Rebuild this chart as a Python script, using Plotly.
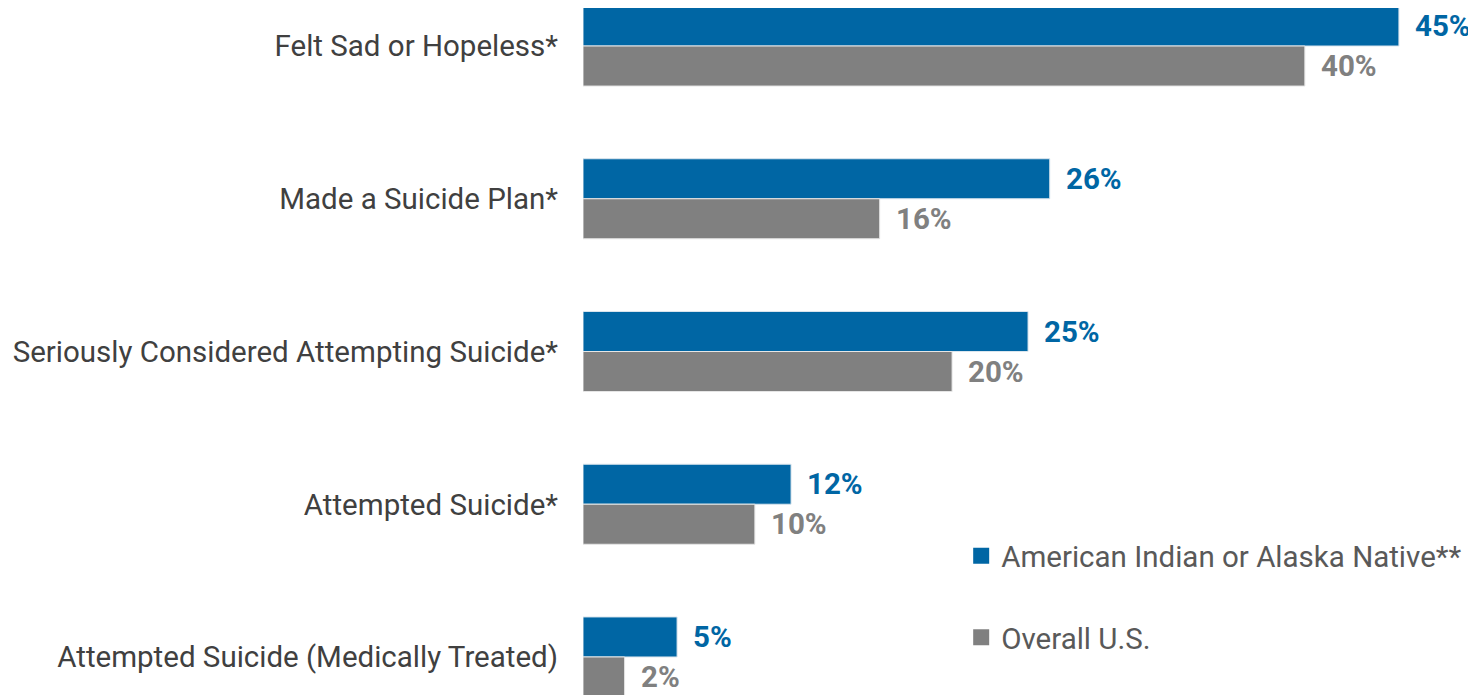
import plotly.graph_objects as go

categories = [
    "Felt Sad or Hopeless*",
    "Made a Suicide Plan*",
    "Seriously Considered Attempting Suicide*",
    "Attempted Suicide*",
    "Attempted Suicide (Medically Treated)",
]
# bar lengths (unrounded estimates)
aian_values = [45.1, 25.8, 24.6, 11.5, 5.2]
overall_values = [39.9, 16.4, 20.4, 9.5, 2.3]
# printed value labels
aian_labels = ["45%", "26%", "25%", "12%", "5%"]
overall_labels = ["40%", "16%", "20%", "10%", "2%"]
series_names = ["American Indian or Alaska Native**", "Overall U.S."]

BLUE = "#0066A4"
GRAY = "#808080"
FONT = "Roboto"
FS = 29.5

fig = go.Figure()
fig.add_trace(go.Bar(y=categories, x=aian_values, orientation="h", marker=dict(color=BLUE, line=dict(color="#dbe6ee", width=1)),
                     showlegend=False, hoverinfo="y", name=series_names[0]))
fig.add_trace(go.Bar(y=categories, x=overall_values, orientation="h", marker=dict(color=GRAY, line=dict(color="#e6e6e6", width=1)),
                     showlegend=False, hoverinfo="y", name=series_names[1]))

# legend entries
for name, col, grp in [(series_names[0], BLUE, "a"), (series_names[1], GRAY, "b")]:
    fig.add_trace(go.Scatter(x=[None], y=[None], mode="markers", name=name, legendgroup=grp,
                             marker=dict(symbol="square", size=16, color=col)))

# value labels
ann = []
for cat, a, o, al, ol in zip(categories, aian_values, overall_values, aian_labels, overall_labels):
    ann.append(dict(x=a, y=cat, text=f"<b>{al}</b>", showarrow=False, xanchor="left", xshift=14, yshift=20,
                    font=dict(family=FONT, size=FS, color=BLUE)))
    ann.append(dict(x=o, y=cat, text=f"<b>{ol}</b>", showarrow=False, xanchor="left", xshift=14, yshift=-20,
                    font=dict(family=FONT, size=FS, color=GRAY)))

fig.update_layout(
    width=1468, height=687,
    margin=dict(l=575, r=0, t=0, b=0),
    paper_bgcolor="white", plot_bgcolor="white",
    barmode="group", bargap=0.476, bargroupgap=0,
    font=dict(family=FONT, size=FS, color="#404040"),
    annotations=ann,
    showlegend=True,
    legend=dict(x=0.4235, y=0.240, xanchor="left", yanchor="top", traceorder="grouped",
                tracegroupgap=40, font=dict(family=FONT, size=FS, color="#595959"),
                bgcolor="rgba(0,0,0,0)"),
    xaxis=dict(range=[0, 49.36], visible=False, fixedrange=True),
    yaxis=dict(range=[4.249, -0.249], showgrid=False, zeroline=False, showline=False,
               tickfont=dict(family=FONT, size=FS, color="#404040"), ticklabelstandoff=24, fixedrange=True),
)

fig.write_html("out.html")
